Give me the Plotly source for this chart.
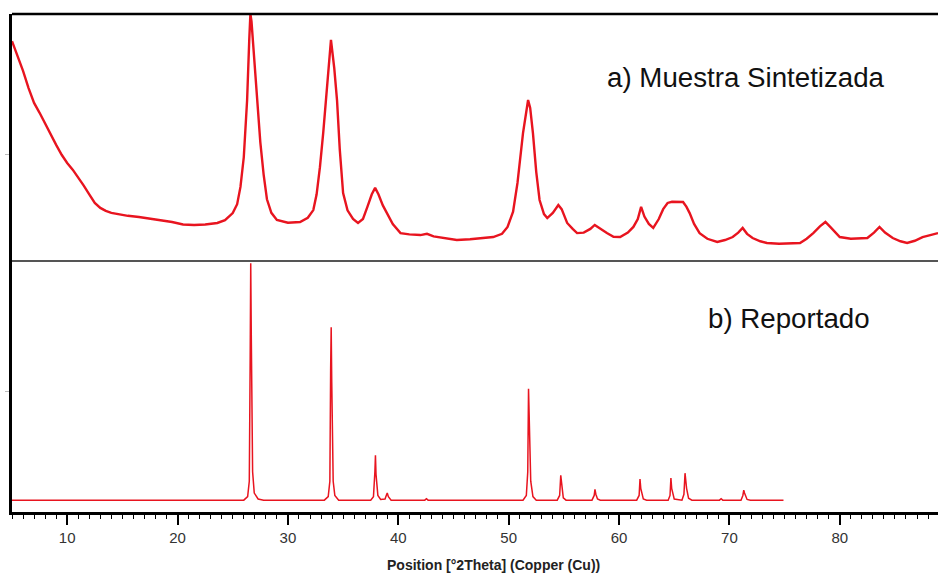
import plotly.graph_objects as go

# ---------------- data ----------------
top_x = [5.0, 5.5, 6.0, 6.5, 7.0, 7.5, 8.0, 8.5, 9.0, 9.5, 10.0, 10.5, 11.0, 11.5, 12.0, 12.5,
         13.0, 13.5, 14.0, 14.5, 15.5, 16.5, 17.5, 18.5, 19.5, 20.5, 21.5, 22.5, 23.6, 24.3,
         25.0, 25.4, 25.7, 26.0, 26.3, 26.5, 26.6, 26.7, 26.85, 27.1, 27.3, 27.5, 27.8, 28.1,
         28.5, 29.0, 30.0, 31.1, 31.8, 32.3, 32.6, 32.9, 33.2, 33.55, 33.9, 34.2, 34.45, 34.7,
         35.0, 35.4, 35.9, 36.35, 36.8, 37.2, 37.6, 37.9, 38.2, 38.6, 39.0, 39.5, 40.2, 41.0,
         42.0, 42.6, 43.2, 44.5, 45.3, 46.5, 47.5, 48.6, 49.4, 49.9, 50.4, 50.8, 51.3, 51.6,
         51.76, 51.95, 52.2, 52.5, 52.8, 53.2, 53.5, 54.0, 54.5, 54.8, 55.3, 55.8, 56.2, 56.8,
         57.4, 57.8, 58.3, 58.9, 59.5, 60.1, 60.8, 61.3, 61.7, 62.0, 62.3, 62.7, 63.1, 63.6,
         64.0, 64.4, 64.8, 65.3, 65.8, 66.1, 66.4, 66.8, 67.3, 68.0, 68.9, 69.6, 70.3, 70.8,
         71.2, 71.6, 72.1, 72.8, 73.4, 74.5, 75.5, 76.4, 77.0, 77.6, 78.2, 78.7, 79.2, 80.0,
         81.0, 82.0, 82.5, 83.1, 83.6, 84.1, 84.8, 85.5, 86.1, 86.8, 87.5, 88.2, 88.9]
top_y = [89, 83, 77, 70, 64, 60, 55.5, 51, 47, 43, 39.7, 37, 34, 30.5, 27, 23.5,
         21.5, 20.3, 19.5, 19, 18.3, 17.8, 17.2, 16.6, 15.8, 14.8, 14.6, 14.8, 15.4, 16.5,
         19.4, 23, 30, 42, 65, 90, 100, 97, 88, 70, 58, 48, 35, 25,
         19.5, 16.6, 15.5, 15.8, 17.5, 20.6, 27, 38, 52, 72, 89.5, 78, 65, 45,
         27.5, 20.5, 17, 15.4, 17, 21.9, 27, 29.6, 27, 22.5, 19.4, 15, 11.3, 10.8,
         10.5, 11, 10, 9, 8.5, 8.8, 9.2, 9.7, 11, 13.8, 20, 31.6, 51.8, 62,
         65.2, 62, 51.8, 36, 24.7, 19, 17.4, 19.5, 22.7, 21, 15.4, 13, 11.3, 11.5,
         13, 14.6, 13, 11.3, 9.8, 9.7, 11.5, 13.8, 17, 21.9, 18, 15, 13.4, 17,
         21, 23.5, 24, 24, 23.9, 22, 19.4, 15, 11.3, 9, 7.7, 8.5, 9.7, 11.5,
         13.4, 11, 9.3, 8, 7.3, 7, 7.2, 7.3, 9, 11.3, 14, 15.8, 13.5, 9.7,
         9, 9.2, 9.3, 11.5, 13.8, 11.5, 9.3, 8, 7.3, 8.2, 9.7, 10.5, 11.3]

ref_x = [5.0, 26.0, 26.35, 26.5, 26.58, 26.63, 26.68, 26.72, 26.8, 26.95, 27.3, 27.8,
         33.3, 33.65, 33.8, 33.87, 33.92, 33.97, 34.02, 34.1, 34.25, 34.6,
         37.5, 37.75, 37.88, 37.93, 37.98, 38.04, 38.15, 38.4, 38.8, 38.95, 39.0, 39.1, 39.35,
         42.4, 42.55, 42.7,
         51.3, 51.6, 51.73, 51.8, 51.86, 51.92, 52.0, 52.2, 52.5,
         54.4, 54.62, 54.72, 54.78, 54.84, 54.95, 55.2,
         57.55, 57.75, 57.82, 57.9, 58.05, 58.3,
         61.6, 61.82, 61.9, 61.97, 62.05, 62.2, 62.5,
         64.45, 64.62, 64.7, 64.77, 64.85, 65.0,
         65.7, 65.88, 65.98, 66.05, 66.12, 66.3, 66.6,
         69.1, 69.25, 69.4,
         71.05, 71.22, 71.3, 71.37, 71.45, 71.6, 71.9, 74.9]
ref_y = [0, 0, 1.5, 8, 60, 100, 70, 40, 12, 3, 0.5, 0,
         0, 1.5, 8, 55, 73, 50, 30, 8, 2, 0,
         0, 1.5, 12, 19, 11, 8, 2, 0.3, 0.5, 2.5, 3, 1.5, 0,
         0, 0.6, 0,
         0, 2, 12, 47, 30, 25, 8, 1.5, 0,
         0, 2, 10.5, 7, 5, 1, 0,
         0, 2, 4.6, 2.5, 0.5, 0,
         0, 2, 8.9, 5, 3, 0.5, 0,
         0, 2, 9.3, 5, 3, 0.5,
         0, 2.5, 11.4, 7, 5, 0.8, 0,
         0, 0.6, 0,
         0, 2, 4.2, 3, 2, 0.3, 0, 0]

x_ticks = [10, 20, 30, 40, 50, 60, 70, 80]
x_tick_labels = ["10", "20", "30", "40", "50", "60", "70", "80"]
label_a = "a) Muestra Sintetizada"
label_b = "b) Reportado"
x_title = "Position [°2Theta] (Copper (Cu))"

# ---------------- figure ----------------
RED = "#e8141f"
FONT = "Liberation Sans, Arial, Helvetica, sans-serif"

fig = go.Figure()
fig.add_trace(go.Scatter(x=top_x, y=top_y, mode="lines",
                         line=dict(color=RED, width=2.4), xaxis="x2", yaxis="y2",
                         showlegend=False, hoverinfo="skip"))
fig.add_trace(go.Scatter(x=ref_x, y=ref_y, mode="lines",
                         line=dict(color=RED, width=1.5), xaxis="x", yaxis="y",
                         showlegend=False, hoverinfo="skip"))

split = 0.504
fig.update_layout(
    width=938, height=574,
    margin=dict(l=12, r=0, t=14, b=62),
    paper_bgcolor="white", plot_bgcolor="white",
    font=dict(family=FONT, color="#333333"),
    xaxis=dict(domain=[0, 1], range=[5, 88.9], anchor="y",
               tickmode="array", tickvals=x_ticks, ticktext=x_tick_labels,
               ticks="outside", ticklen=10, tickwidth=1.5, tickcolor="black",
               showline=True, linecolor="black", linewidth=2.5,
               showgrid=False, zeroline=False,
               tickfont=dict(size=15, color="#333333", family=FONT),
               minor=dict(dtick=1, tick0=0, ticks="outside", ticklen=4,
                          tickwidth=1.2, tickcolor="black", showgrid=False)),
    xaxis2=dict(domain=[0, 1], range=[5, 88.9], anchor="y2", matches="x",
                showticklabels=False, ticks="", showline=False,
                showgrid=False, zeroline=False),
    yaxis=dict(domain=[0, split], range=[-5, 101], anchor="x",
               showticklabels=False, ticks="outside", ticklen=4, tickcolor="#bbbbbb",
               tickvals=[46], showline=True, linecolor="black", linewidth=2.5,
               showgrid=False, zeroline=False),
    yaxis2=dict(domain=[split, 1], range=[0, 100], anchor="x2",
                showticklabels=False, ticks="outside", ticklen=4, tickcolor="#bbbbbb",
                tickvals=[43], showline=True, linecolor="black", linewidth=2.5,
                showgrid=False, zeroline=False),
    shapes=[
        dict(type="line", xref="paper", yref="paper", x0=0, x1=1, y0=1, y1=1,
             line=dict(color="black", width=2.5)),
        dict(type="line", xref="paper", yref="paper", x0=0, x1=1, y0=split, y1=split,
             line=dict(color="#555555", width=2)),
    ],
    annotations=[
        dict(text=label_a, xref="paper", yref="paper", x=(605 - 12) / 926, y=(512 - 77) / 498,
             xanchor="left", yanchor="middle", showarrow=False,
             font=dict(size=27.7, color="#111111", family=FONT)),
        dict(text=label_b, xref="paper", yref="paper", x=(706 - 12) / 926, y=(512 - 318) / 498,
             xanchor="left", yanchor="middle", showarrow=False,
             font=dict(size=27.7, color="#111111", family=FONT)),
        dict(text="<b>" + x_title + "</b>", xref="paper", yref="paper",
             x=(493 - 12) / 926, y=-(565 - 512) / 498,
             xanchor="center", yanchor="middle", showarrow=False,
             font=dict(size=14, color="#222222", family=FONT)),
    ],
)

fig.write_html("out.html")
